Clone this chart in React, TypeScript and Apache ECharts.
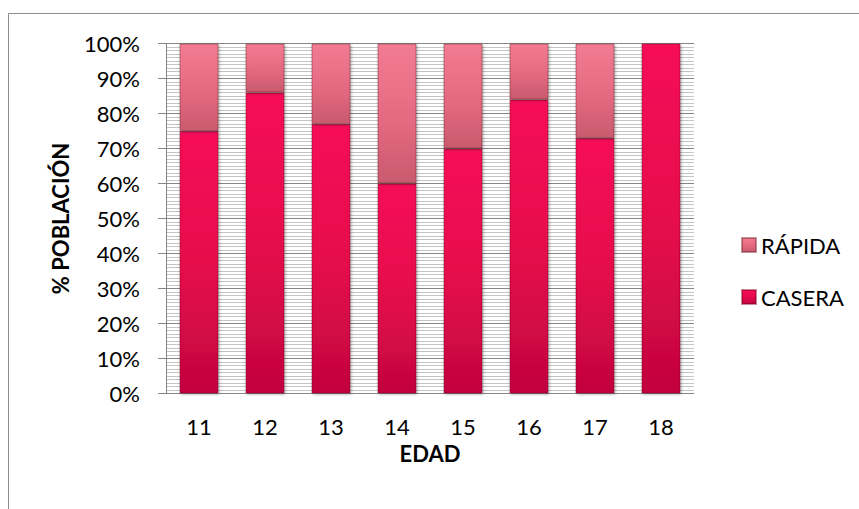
import React, { useEffect, useRef } from "react";
import * as echarts from "echarts";

const edades = ["11", "12", "13", "14", "15", "16", "17", "18"];
const casera = [75, 86, 77, 60, 70, 84, 73, 100];
const rapida = [25, 14, 23, 40, 30, 16, 27, 0];

const FONT = "Lato, 'Open Sans', 'DejaVu Sans', sans-serif";
const FS = 22;

const caseraFill = new echarts.graphic.LinearGradient(0, 0, 0, 1, [
  { offset: 0, color: "#F50E58" },
  { offset: 0.5, color: "#E60A4C" },
  { offset: 1, color: "#C2053F" },
]);
const rapidaFill = new echarts.graphic.LinearGradient(0, 0, 0, 1, [
  { offset: 0, color: "#F27C93" },
  { offset: 0.6, color: "#E2687F" },
  { offset: 1, color: "#C95A6E" },
]);

export default function App() {
  const ref = useRef<HTMLDivElement>(null);

  useEffect(() => {
    if (!ref.current) return;
    const chart = echarts.init(ref.current, null, { renderer: "svg" });
    chart.setOption({
      animation: false,
      backgroundColor: "#ffffff",
      textStyle: { fontFamily: FONT },
      grid: { left: 166, right: 165, top: 43.5, bottom: 115.5 },
      legend: {
        orient: "vertical",
        left: 736,
        top: 229,
        itemWidth: 14,
        itemHeight: 14,
        itemGap: 30,
        icon: "rect",
        textStyle: {
          fontSize: FS,
          lineHeight: 22,
          color: "#000",
          fontFamily: FONT,
          padding: [0, 0, 0, 0],
        },
        data: ["RÁPIDA", "CASERA"],
      },
      graphic: [
        {
          type: "rect",
          shape: { x: 8.5, y: 13.5, width: 900, height: 520 },
          style: { fill: "none", stroke: "#8c8c8c", lineWidth: 1 },
          silent: true,
        },
      ],
      xAxis: {
        type: "category",
        data: edades,
        name: "EDAD",
        nameLocation: "middle",
        nameGap: 42,
        nameTextStyle: { fontSize: FS, fontWeight: "bold", color: "#000", fontFamily: FONT },
        axisLine: { show: true, lineStyle: { color: "#868686", width: 1 } },
        axisTick: { show: false },
        axisLabel: { fontSize: FS, color: "#000", margin: 22, fontFamily: FONT },
      },
      yAxis: {
        type: "value",
        min: 0,
        max: 100,
        interval: 10,
        name: "% POBLACIÓN",
        nameLocation: "middle",
        nameGap: 95,
        nameTextStyle: { fontSize: FS, fontWeight: "bold", color: "#000", fontFamily: FONT },
        axisLine: { show: true, lineStyle: { color: "#868686", width: 1 } },
        axisTick: { show: true, length: 8, inside: false, lineStyle: { color: "#868686" } },
        axisLabel: {
          fontSize: FS,
          color: "#000",
          margin: 26,
          fontFamily: FONT,
          formatter: (v: number) => v + "%",
        },
        splitLine: { show: true, lineStyle: { color: "#868686", width: 1 } },
        minorTick: { show: false, splitNumber: 10 },
        minorSplitLine: { show: true, lineStyle: { color: "#c4c4c4", width: 1 } },
      },
      series: [
        {
          name: "CASERA",
          type: "bar",
          stack: "total",
          data: casera,
          barWidth: 39,
          itemStyle: {
            color: caseraFill,
            borderColor: "rgba(120,0,30,0.45)",
            borderWidth: 1,
            shadowColor: "rgba(0,0,0,0.35)",
            shadowBlur: 3,
            shadowOffsetX: 1,
            shadowOffsetY: 1,
          },
        },
        {
          name: "RÁPIDA",
          type: "bar",
          stack: "total",
          data: rapida,
          barWidth: 39,
          itemStyle: {
            color: rapidaFill,
            borderColor: "rgba(110,30,45,0.45)",
            borderWidth: 1,
            shadowColor: "rgba(0,0,0,0.35)",
            shadowBlur: 3,
            shadowOffsetX: 1,
            shadowOffsetY: 1,
          },
        },
      ],
    });
    return () => chart.dispose();
  }, []);

  return (
    <div
      ref={ref}
      style={{ position: "fixed", left: 0, top: 0, width: 859, height: 509 }}
    />
  );
}
